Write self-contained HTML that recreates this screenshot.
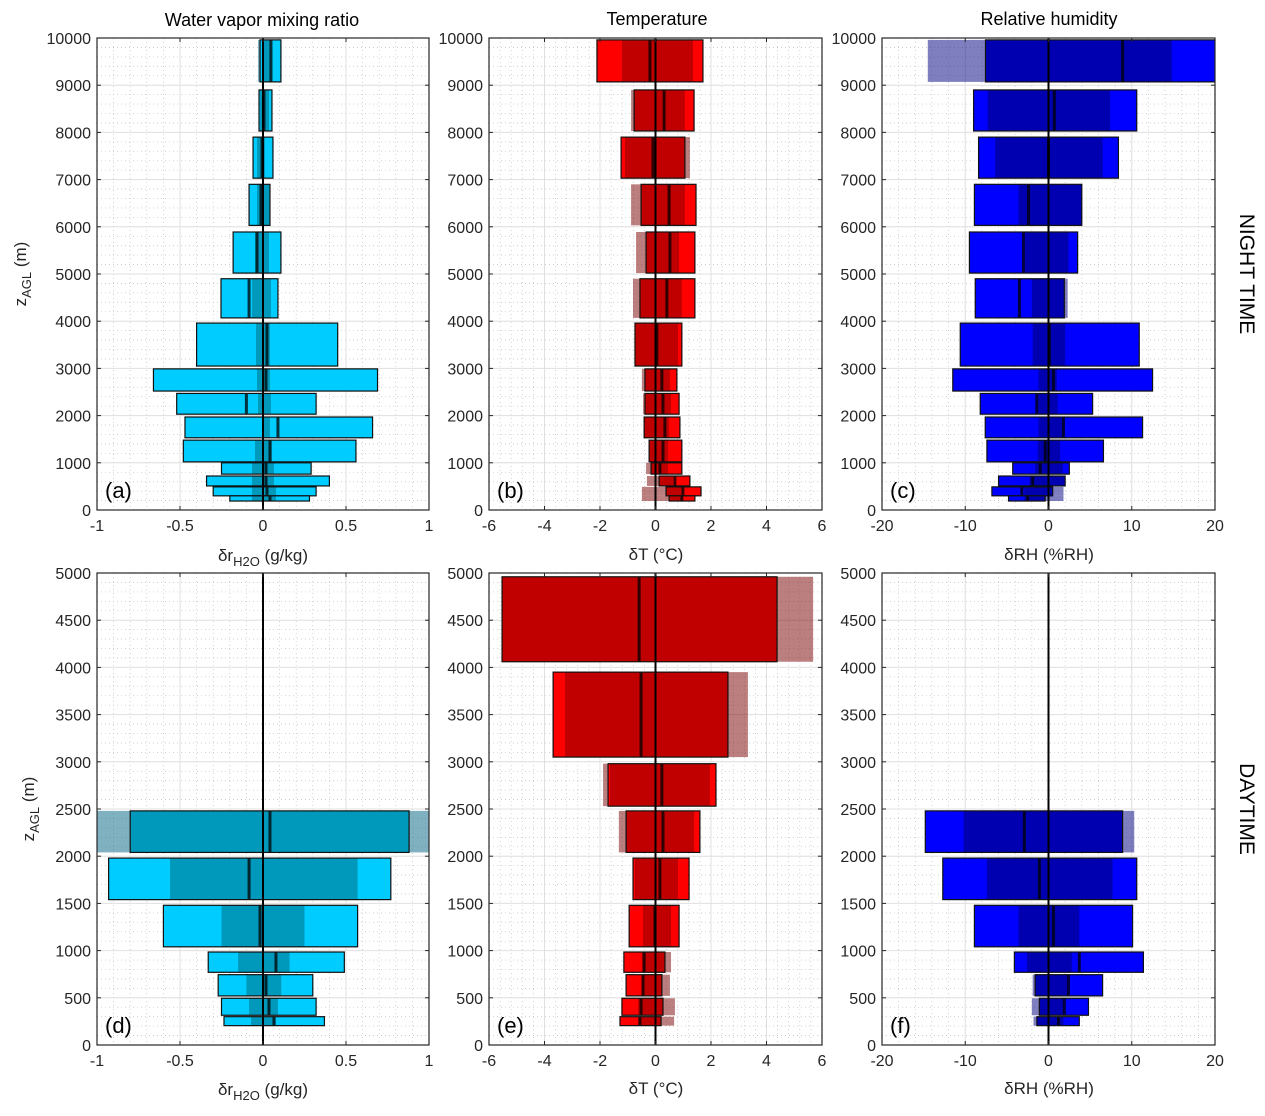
<!DOCTYPE html>
<html><head><meta charset="utf-8"><style>
body{margin:0;background:#fff;}
svg{display:block;font-family:"Liberation Sans",sans-serif;}
</style></head><body>
<svg id="fig" width="1265" height="1116" viewBox="0 0 1265 1116" xmlns="http://www.w3.org/2000/svg"></svg>
<script>
// ---- bins (altitude, m) ----
const binsTop=[[9070,9960],[8030,8900],[7030,7900],[6030,6900],[5020,5890],[4070,4900],[3050,3960],[2520,2990],[2030,2470],[1530,1970],[1020,1480],[760,1000],[510,720],[300,490],[190,300]];
const binsBot=[[4060,4960],[3050,3950],[2530,2980],[2040,2480],[1540,1980],[1040,1480],[770,985],[520,745],[315,495],[205,300]];
// each row: [brightLo, brightHi, darkLo, darkHi, median, ghostLo, ghostHi]  (null ghost = none)
const dataA=[[-0.018,0.108,0.006,0.048,0.048,-0.03,null],[-0.024,0.054,-0.018,0.036,0.006,null,null],[-0.06,0.06,-0.036,0.012,-0.006,null,null],[-0.084,0.042,-0.036,0.042,-0.012,null,null],[-0.18,0.108,-0.048,0.036,-0.036,null,null],[-0.253,0.09,-0.066,0.048,-0.084,null,null],[-0.40,0.45,-0.042,0.042,0.024,null,null],[-0.66,0.69,-0.036,0.042,0.018,null,null],[-0.52,0.32,-0.03,0.048,-0.10,null,null],[-0.47,0.66,0.006,0.042,0.09,null,null],[-0.48,0.56,-0.048,0.054,0.042,null,null],[-0.25,0.29,-0.066,0.066,0.018,null,null],[-0.34,0.40,-0.066,0.066,0.018,null,null],[-0.30,0.32,-0.066,0.078,0.024,null,null],[-0.20,0.28,-0.066,0.078,0.042,null,null]];
const dataB=[[-2.11,1.71,-1.21,1.35,-0.20,null,null],[-0.77,1.39,-0.77,1.06,0.31,-0.88,null],[-1.24,1.06,-1.10,1.06,-0.09,null,1.24],[-0.52,1.46,-0.52,1.06,0.49,-0.88,null],[-0.34,1.42,-0.34,0.85,0.52,-0.70,null],[-0.56,1.42,-0.56,0.95,0.41,-0.81,null],[-0.74,0.95,-0.74,0.81,0.05,null,null],[-0.38,0.77,-0.38,0.52,0.23,-0.49,null],[-0.38,0.85,-0.38,0.56,0.27,-0.45,null],[-0.41,0.88,-0.41,0.49,0.34,null,null],[-0.23,0.95,-0.23,0.45,0.27,null,null],[-0.16,0.95,-0.16,0.45,0.16,-0.34,null],[0.13,1.24,0.13,0.63,0.70,-0.31,null],[0.38,1.64,0.38,0.99,0.99,-0.49,null],[0.49,1.42,0.49,0.99,0.95,-0.49,null]];
const dataC=[[-7.57,20.5,-7.57,14.8,8.9,-14.5,null],[-9.0,10.6,-7.3,7.4,0.7,null,null],[-8.4,8.4,-6.4,6.5,0,null,null],[-8.9,4.0,-3.6,4.0,-2.4,null,null],[-9.5,3.5,-2.8,2.4,-3.0,null,null],[-8.8,1.9,-2.0,1.9,-3.5,null,2.3],[-10.6,10.9,-1.9,2.0,0.1,null,null],[-11.5,12.5,-1.2,1.0,0.6,null,null],[-8.2,5.3,-1.2,1.1,-1.4,null,null],[-7.6,11.3,-1.2,1.7,1.8,null,null],[-7.4,6.6,-1.3,1.4,-0.4,null,null],[-4.3,2.5,-1.6,1.7,-1.0,null,null],[-6.0,2.0,-2.3,2.0,-1.9,null,null],[-6.8,0.5,-2.9,0.5,-3.2,null,1.8],[-4.8,-0.4,-2.9,-0.4,-2.5,null,1.8]];
const dataD=[null,null,null,[-0.80,0.88,-0.80,0.88,0.042,-1.05,1.05],[-0.93,0.77,-0.56,0.57,-0.084,null,null],[-0.60,0.57,-0.25,0.25,-0.018,null,null],[-0.33,0.49,-0.15,0.16,0.078,null,null],[-0.27,0.30,-0.10,0.11,0.018,null,null],[-0.25,0.32,-0.084,0.09,0.036,null,null],[-0.235,0.37,-0.072,0.078,0.066,null,null]];
const dataE=[[-5.53,4.38,-5.53,4.38,-0.59,null,5.68],[-3.69,2.61,-3.26,2.61,-0.52,null,3.33],[-1.71,2.18,-1.64,1.96,0.23,-1.89,null],[-1.06,1.60,-1.06,1.39,0.27,-1.32,null],[-0.81,1.21,-0.74,0.81,0.16,null,null],[-0.95,0.85,-0.45,0.56,-0.02,null,null],[-1.14,0.34,-0.49,0.34,-0.41,null,0.56],[-1.06,0.23,-0.49,0.23,-0.45,null,0.52],[-1.21,0.27,-0.63,0.27,-0.52,null,0.70],[-1.28,0.20,-0.63,0.20,-0.56,null,0.67]];
const dataF=[null,null,null,[-14.8,8.9,-10.2,8.9,-2.9,null,10.3],[-12.7,10.6,-7.4,7.7,-1.1,null,null],[-8.9,10.1,-3.6,3.7,0.6,null,null],[-4.1,11.4,-2.6,2.8,3.7,null,null],[-1.6,6.5,-1.6,2.3,2.4,-1.9,null],[-1.1,4.8,-1.1,1.8,1.9,-2.0,null],[-1.4,3.7,-1.4,1.8,1.2,-1.8,null]];
const ticksA=[-1,-0.5,0,0.5,1], ticksB=[-6,-4,-2,0,2,4,6], ticksC=[-20,-10,0,10,20];
const yTicksTop=[0,1000,2000,3000,4000,5000,6000,7000,8000,9000,10000];
const yTicksBot=[0,500,1000,1500,2000,2500,3000,3500,4000,4500,5000];

const NS="http://www.w3.org/2000/svg";
const svg=document.getElementById('fig');
function mk(tag,at,parent){const e=document.createElementNS(NS,tag);for(const k in at)e.setAttribute(k,at[k]);(parent||svg).appendChild(e);return e;}
const colsX=[[97,429],[489,822],[882,1215]];
const rowsY=[[38,510],[573,1045]];
const pal=[{b:'#00ccff',d:'#0099bb',g:'rgba(0,100,130,0.5)'},{b:'#ff0000',d:'#c00000',g:'rgba(120,0,0,0.5)'},{b:'#0000ff',d:'#0000b0',g:'rgba(0,0,128,0.5)'}];
const panels=[
 {c:0,r:0,xr:[-1,1],ticks:ticksA,ymax:10000,yt:yTicksTop,bins:binsTop,data:dataA,lab:'(a)',name:'panel-a'},
 {c:1,r:0,xr:[-6,6],ticks:ticksB,ymax:10000,yt:yTicksTop,bins:binsTop,data:dataB,lab:'(b)',name:'panel-b'},
 {c:2,r:0,xr:[-20,20],ticks:ticksC,ymax:10000,yt:yTicksTop,bins:binsTop,data:dataC,lab:'(c)',name:'panel-c'},
 {c:0,r:1,xr:[-1,1],ticks:ticksA,ymax:5000,yt:yTicksBot,bins:binsBot,data:dataD,lab:'(d)',name:'panel-d'},
 {c:1,r:1,xr:[-6,6],ticks:ticksB,ymax:5000,yt:yTicksBot,bins:binsBot,data:dataE,lab:'(e)',name:'panel-e'},
 {c:2,r:1,xr:[-20,20],ticks:ticksC,ymax:5000,yt:yTicksBot,bins:binsBot,data:dataF,lab:'(f)',name:'panel-f'}];
panels.forEach((p,pi)=>{
  const [x0,x1]=colsX[p.c],[y0,y1]=rowsY[p.r];
  const X=v=>x0+(v-p.xr[0])/(p.xr[1]-p.xr[0])*(x1-x0);
  const Y=z=>y1-z/p.ymax*(y1-y0);
  const g=mk('g',{});
  
  
  const cid='clip'+pi;
  const cp=mk('clipPath',{id:cid},g);mk('rect',{x:x0,y:y0,width:x1-x0,height:y1-y0},cp);
  const dx=(p.ticks[1]-p.ticks[0])/5;
  for(let v=p.xr[0];v<=p.xr[1]+1e-9;v+=dx) mk('line',{x1:X(v),x2:X(v),y1:y0,y2:y1,stroke:'#c8c8c8','stroke-width':0.8,'stroke-dasharray':'1,3'},g);
  const dz=(p.yt[1]-p.yt[0])/5;
  for(let z=0;z<=p.ymax+1e-9;z+=dz) mk('line',{x1:x0,x2:x1,y1:Y(z),y2:Y(z),stroke:'#c8c8c8','stroke-width':0.8,'stroke-dasharray':'1,3'},g);
  p.ticks.forEach(v=>mk('line',{x1:X(v),x2:X(v),y1:y0,y2:y1,stroke:'#e0e0e0','stroke-width':1},g));
  p.yt.forEach(z=>mk('line',{x1:x0,x2:x1,y1:Y(z),y2:Y(z),stroke:'#e0e0e0','stroke-width':1},g));
  const bars=mk('g',{'clip-path':'url(#'+cid+')'},g);
  const col=pal[p.c];
  p.data.forEach((d,i)=>{
    if(!d)return;
    const [zl,zh]=p.bins[i];
    const yt=Y(zh),h=Y(zl)-Y(zh);
    const gl=d[5]!==null?d[5]:d[0], gh=d[6]!==null?d[6]:d[1];
    if(d[5]!==null||d[6]!==null){const r=mk('rect',{x:X(gl),y:yt,width:X(gh)-X(gl),height:h,fill:col.g},bars);}
    const rb=mk('rect',{x:X(d[0]),y:yt,width:X(d[1])-X(d[0]),height:h,fill:col.b},bars);
    
    
    const rd=mk('rect',{x:X(d[2]),y:yt,width:X(d[3])-X(d[2]),height:h,fill:col.d},bars);
    
    
    const rm=mk('rect',{x:X(d[4])-1.5,y:yt,width:3,height:h,fill:'rgba(0,0,0,0.75)'},bars);
    
    
    mk('rect',{x:X(d[0]),y:yt,width:X(d[1])-X(d[0]),height:h,fill:'none',stroke:'#111','stroke-width':1.2},bars);
  });
  mk('line',{x1:X(0),x2:X(0),y1:y0,y2:y1,stroke:'#000','stroke-width':2},g);
  mk('rect',{x:x0,y:y0,width:x1-x0,height:y1-y0,fill:'none',stroke:'#262626','stroke-width':1.2},g);
  p.ticks.forEach(v=>{mk('line',{x1:X(v),x2:X(v),y1:y1,y2:y1-4,stroke:'#262626'},g);mk('line',{x1:X(v),x2:X(v),y1:y0,y2:y0+4,stroke:'#262626'},g);
    const t=mk('text',{x:X(v),y:y1+21,'text-anchor':'middle','font-size':16,fill:'#262626'},g);t.textContent=String(v);
    });
  p.yt.forEach(z=>{mk('line',{x1:x0,x2:x0+4,y1:Y(z),y2:Y(z),stroke:'#262626'},g);mk('line',{x1:x1,x2:x1-4,y1:Y(z),y2:Y(z),stroke:'#262626'},g);
    const t=mk('text',{x:x0-6,y:Y(z)+6,'text-anchor':'end','font-size':16,fill:'#262626'},g);t.textContent=String(z);
    });
  const l=mk('text',{x:x0+8,y:y1-12,'font-size':22,fill:'#000'},g);l.textContent=p.lab;
  
});
</script>
<script>
const svg2=document.getElementById('fig');
svg2.insertAdjacentHTML('beforeend',`
<text x="262" y="26" text-anchor="middle" font-size="18" fill="#000">Water vapor mixing ratio</text>
<text x="657" y="25" text-anchor="middle" font-size="18" fill="#000">Temperature</text>
<text x="1049" y="25" text-anchor="middle" font-size="18" fill="#000">Relative humidity</text>
<text x="263" y="561" text-anchor="middle" font-size="17" fill="#262626">δr<tspan font-size="13" dy="5">H2O</tspan><tspan dy="-5"> (g/kg)</tspan></text>
<text x="656" y="560" text-anchor="middle" font-size="17" fill="#262626">δT (°C)</text>
<text x="1049" y="560" text-anchor="middle" font-size="17" fill="#262626">δRH (%RH)</text>
<text x="263" y="1095" text-anchor="middle" font-size="17" fill="#262626">δr<tspan font-size="13" dy="5">H2O</tspan><tspan dy="-5"> (g/kg)</tspan></text>
<text x="656" y="1094" text-anchor="middle" font-size="17" fill="#262626">δT (°C)</text>
<text x="1049" y="1094" text-anchor="middle" font-size="17" fill="#262626">δRH (%RH)</text>
<text transform="translate(26,274) rotate(-90)" text-anchor="middle" font-size="17" fill="#262626">z<tspan font-size="13" dy="5">AGL</tspan><tspan dy="-5"> (m)</tspan></text>
<text transform="translate(34,809) rotate(-90)" text-anchor="middle" font-size="17" fill="#262626">z<tspan font-size="13" dy="5">AGL</tspan><tspan dy="-5"> (m)</tspan></text>
<text transform="translate(1240,274) rotate(90)" text-anchor="middle" font-size="21" fill="#000">NIGHT TIME</text>
<text transform="translate(1240,809) rotate(90)" text-anchor="middle" font-size="21" fill="#000">DAYTIME</text>`);
</script>
</body></html>
